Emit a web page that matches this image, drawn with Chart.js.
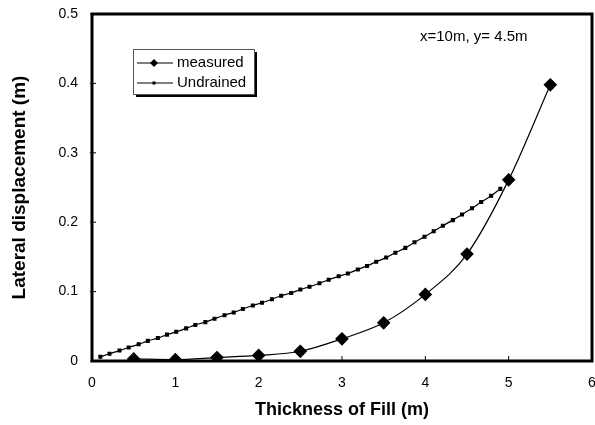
<!DOCTYPE html>
<html>
<head>
<meta charset="utf-8">
<script src="https://cdn.jsdelivr.net/npm/chart.js@4"></script>
<style>
  html, body { margin: 0; padding: 0; background: #fff; }
  #wrap { width: 595px; height: 425px; }
</style>
</head>
<body>
<div id="wrap"><canvas id="c" width="595" height="425"></canvas></div>
<script>
// Datos
const measuredX = [0.5, 1, 1.5, 2, 2.5, 3, 3.5, 4, 4.5, 5, 5.5];
const measuredY = [0.003, 0.002, 0.005, 0.008, 0.014, 0.032, 0.055, 0.096, 0.154, 0.261, 0.398];

const undrainedX = [0.10, 0.21, 0.33, 0.44, 0.56, 0.67, 0.79, 0.90, 1.01, 1.13, 1.24, 1.36, 1.47, 1.59, 1.70,
    1.81, 1.93, 2.04, 2.16, 2.27, 2.39, 2.50, 2.61, 2.73, 2.84, 2.96, 3.07, 3.19, 3.30, 3.41, 3.53,
    3.64, 3.76, 3.87, 3.99, 4.10, 4.21, 4.33, 4.44, 4.56, 4.67, 4.79, 4.90];
const undrainedY = [0.006, 0.0105, 0.015, 0.0195, 0.024, 0.029, 0.033, 0.038, 0.042, 0.047, 0.052, 0.056, 0.061, 0.066, 0.070,
    0.075, 0.080, 0.084, 0.089, 0.094, 0.098, 0.103, 0.107, 0.112, 0.117, 0.122, 0.126, 0.132, 0.137, 0.143, 0.149,
    0.156, 0.163, 0.171, 0.179, 0.187, 0.195, 0.203, 0.211, 0.220, 0.229, 0.238, 0.248];

const xTicks = [0, 1, 2, 3, 4, 5, 6];
const yTicks = [0, 0.1, 0.2, 0.3, 0.4, 0.5];
const seriesNames = ["measured", "Undrained"];
const note = "x=10m, y= 4.5m";

const FONT = "'Liberation Sans', Arial, sans-serif";

function puntos(xs, ys){
    return xs.map((x, i) => ({x: x, y: ys[i]}));
}

// Marco, marcas y leyenda
const extras = {
    id: 'extras',
    afterDatasetsDraw(chart){
        const ctx = chart.ctx;
        const a = chart.chartArea;
        const sx = chart.scales.x, sy = chart.scales.y;
        ctx.save();
        ctx.strokeStyle = '#000';
        ctx.lineWidth = 1;
        ctx.beginPath();
        xTicks.forEach(t => {
            const px = sx.getPixelForValue(t);
            ctx.moveTo(px, a.bottom); ctx.lineTo(px, a.bottom - 5);
        });
        yTicks.forEach(t => {
            const py = sy.getPixelForValue(t);
            ctx.moveTo(a.left - 2, py); ctx.lineTo(a.left + 4, py);
        });
        ctx.stroke();

        ctx.lineWidth = 3;
        ctx.strokeRect(a.left, a.top, a.right - a.left, a.bottom - a.top);

        // nota
        ctx.fillStyle = '#000';
        ctx.font = "15px " + FONT;
        ctx.textBaseline = 'middle';
        ctx.textAlign = 'left';
        ctx.fillText(note, 420, 37);

        // leyenda
        const lx = 133, ly = 49, lw = 121, lh = 45;
        ctx.fillStyle = '#000';
        ctx.fillRect(lx + 3, ly + 3, lw, lh);
        ctx.fillStyle = '#fff';
        ctx.fillRect(lx, ly, lw, lh);
        ctx.lineWidth = 1;
        ctx.strokeStyle = '#555';
        ctx.strokeRect(lx + 0.5, ly + 0.5, lw, lh);

        ctx.font = "15px " + FONT;
        chart.data.datasets.forEach((ds, i) => {
            const yy = ly + 14 + i * 20;
            ctx.strokeStyle = '#000';
            ctx.lineWidth = 1;
            ctx.beginPath();
            ctx.moveTo(lx + 4, yy); ctx.lineTo(lx + 40, yy);
            ctx.stroke();
            ctx.fillStyle = '#000';
            const cx = lx + 21;
            if(ds.pointStyle === 'rectRot'){
                ctx.beginPath();
                ctx.moveTo(cx, yy - 4); ctx.lineTo(cx + 4, yy); ctx.lineTo(cx, yy + 4); ctx.lineTo(cx - 4, yy);
                ctx.closePath(); ctx.fill();
            } else {
                ctx.fillRect(cx - 1.5, yy - 1.5, 3, 3);
            }
            ctx.fillText(ds.label, lx + 44, yy);
        });
        ctx.restore();
    }
};

new Chart(document.getElementById('c'), {
    type: 'scatter',
    data: {
        datasets: [
            {
                label: seriesNames[0],
                data: puntos(measuredX, measuredY),
                showLine: true,
                borderColor: '#000',
                backgroundColor: '#000',
                borderWidth: 1.2,
                pointStyle: 'rectRot',
                pointRadius: 6,
                cubicInterpolationMode: 'monotone'
            },
            {
                label: seriesNames[1],
                data: puntos(undrainedX, undrainedY),
                showLine: true,
                borderColor: '#000',
                backgroundColor: '#000',
                borderWidth: 1.2,
                pointStyle: 'rect',
                pointRadius: 2,
                tension: 0.3
            }
        ]
    },
    plugins: [extras],
    options: {
        responsive: false,
        animation: false,
        layout: { autoPadding: false, padding: { top: 14, right: 3, left: 0, bottom: 0 } },
        plugins: { legend: { display: false }, tooltip: { enabled: false } },
        scales: {
            x: {
                type: 'linear', min: 0, max: 6,
                afterBuildTicks: s => { s.ticks = xTicks.map(v => ({value: v})); },
                afterFit: s => { s.height = 64; s.paddingLeft = 0; s.paddingRight = 0; },
                grid: { display: false, drawTicks: false },
                border: { display: false },
                ticks: { color: '#000', font: { family: FONT, size: 14 }, padding: 14, maxRotation: 0 },
                title: { display: true, text: 'Thickness of Fill (m)', color: '#000',
                         font: { family: FONT, size: 18, weight: 'bold' }, padding: { top: 6 } }
            },
            y: {
                type: 'linear', min: 0, max: 0.5,
                afterBuildTicks: s => { s.ticks = yTicks.map(v => ({value: v})); },
                afterFit: s => { s.width = 92; s.paddingTop = 0; s.paddingBottom = 0; },
                grid: { display: false, drawTicks: false },
                border: { display: false },
                ticks: { color: '#000', font: { family: FONT, size: 14 }, padding: 14,
                         callback: v => String(v) },
                title: { display: true, text: 'Lateral displacement (m)', color: '#000',
                         font: { family: FONT, size: 19, weight: 'bold' }, padding: { top: 8, bottom: 4 } }
            }
        }
    }
});
</script>
</body>
</html>
